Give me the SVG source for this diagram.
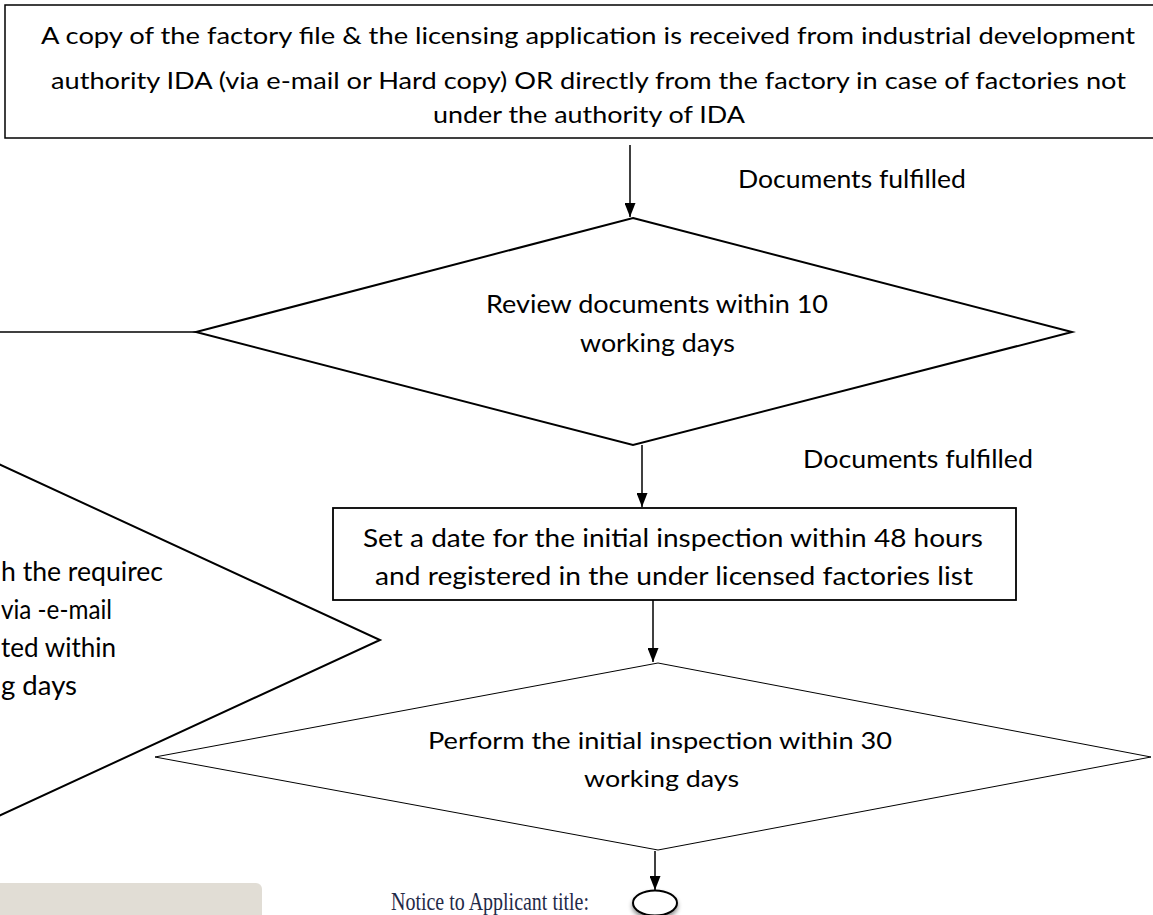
<svg xmlns="http://www.w3.org/2000/svg" width="1153" height="915" viewBox="0 0 1153 915">
<defs>
<marker id="ah" viewBox="0 0 14 11" refX="14" refY="5.5" markerWidth="14" markerHeight="11" markerUnits="userSpaceOnUse" orient="auto">
<path d="M0,0 L14,5.5 L0,11 Z" fill="#000"/>
</marker>
<filter id="sh" x="-50%" y="-50%" width="200%" height="200%">
<feDropShadow dx="0" dy="3" stdDeviation="2" flood-color="#000" flood-opacity="0.45"/>
</filter>
<clipPath id="clipL"><rect x="0" y="540" width="163" height="180"/></clipPath>
</defs>
<style>
.t{font-family:Lato,"Open Sans",sans-serif;fill:#000;}
.n{fill:#fff;stroke:#000;}
.c{stroke:#000;stroke-width:1.5;fill:none;}
.serif{font-family:"Liberation Serif","Times New Roman",serif;fill:#1f2a48;}
</style>
<rect x="-10" y="883" width="272" height="50" rx="6" fill="#e1ddd5"/>

<g id="n-receive">
<rect class="n" x="5" y="5" width="1170" height="133" stroke="#333" stroke-width="1.5"/>
<text class="t" font-size="24" x="41" y="44" textLength="1094" lengthAdjust="spacingAndGlyphs">A copy of the factory file &amp; the licensing application is received from industrial development</text>
<text class="t" font-size="24" x="51" y="89" textLength="1075" lengthAdjust="spacingAndGlyphs">authority IDA (via e-mail or Hard copy) OR directly from the factory in case of factories not</text>
<text class="t" font-size="24" x="433" y="123" textLength="312" lengthAdjust="spacingAndGlyphs">under the authority of IDA</text>
</g>

<g id="n-review">
<polygon class="n" stroke-width="2" points="633,218 1072,332 633,445 196,332"/>
<text class="t" font-size="25" x="486" y="313" textLength="342" lengthAdjust="spacingAndGlyphs">Review documents within 10</text>
<text class="t" font-size="25" x="580" y="352" textLength="155" lengthAdjust="spacingAndGlyphs">working days</text>
</g>

<g id="n-notify">
<polyline class="n" stroke-width="2" points="-60,437 380,640 -60,843"/>
<g clip-path="url(#clipL)">
<text class="t" font-size="26" x="1" y="581" textLength="162" lengthAdjust="spacingAndGlyphs">h the requirec</text>
<text class="t" font-size="26" x="1" y="619" textLength="111" lengthAdjust="spacingAndGlyphs">via -e-mail</text>
<text class="t" font-size="26" x="1" y="657" textLength="115" lengthAdjust="spacingAndGlyphs">ted within</text>
<text class="t" font-size="26" x="1" y="695" textLength="76" lengthAdjust="spacingAndGlyphs">g days</text>
</g>
</g>

<g id="n-setdate">
<rect class="n" x="333" y="508" width="683" height="92" stroke-width="1.8"/>
<text class="t" font-size="25" x="363" y="547" textLength="620" lengthAdjust="spacingAndGlyphs">Set a date for the initial inspection within 48 hours</text>
<text class="t" font-size="25" x="375" y="585" textLength="598" lengthAdjust="spacingAndGlyphs">and registered in the under licensed factories list</text>
</g>

<g id="n-inspect">
<polygon class="n" stroke-width="1" points="658,663 1151,757 658,850 155,757"/>
<text class="t" font-size="24" x="428" y="749" textLength="464" lengthAdjust="spacingAndGlyphs">Perform the initial inspection within 30</text>
<text class="t" font-size="24" x="584" y="787" textLength="155" lengthAdjust="spacingAndGlyphs">working days</text>
</g>

<g id="n-end">
<ellipse cx="655" cy="903" rx="22" ry="12.5" fill="#fff" stroke="#000" stroke-width="2" filter="url(#sh)"/>
</g>

<g id="n-notice">
<text class="serif" font-size="26" x="391" y="910" textLength="198" lengthAdjust="spacingAndGlyphs">Notice to Applicant title:</text>
</g>

<g id="connectors">
<line class="c" x1="630" y1="145" x2="630" y2="217" marker-end="url(#ah)"/>
<line class="c" x1="0" y1="332" x2="196" y2="332" stroke-width="2"/>
<line class="c" x1="642" y1="445" x2="642" y2="507" marker-end="url(#ah)"/>
<line class="c" x1="653" y1="600" x2="653" y2="662" marker-end="url(#ah)"/>
<line class="c" x1="655" y1="851" x2="655" y2="890" marker-end="url(#ah)"/>
<text class="t" font-size="25" x="738" y="188" textLength="228" lengthAdjust="spacingAndGlyphs">Documents fulfilled</text>
<text class="t" font-size="25" x="803" y="468" textLength="230" lengthAdjust="spacingAndGlyphs">Documents fulfilled</text>
</g>
</svg>
